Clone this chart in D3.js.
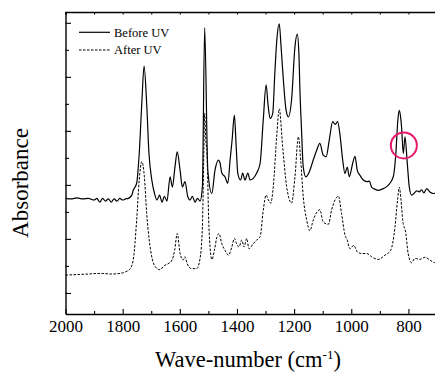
<!DOCTYPE html>
<html>
<head>
<meta charset="utf-8">
<script src="https://cdn.jsdelivr.net/npm/d3@7"></script>
<style>
  body { margin: 0; background: #fff; }
</style>
</head>
<body>
<figure id="chart" style="margin:0"></figure>
<script>
// FTIR spectra (wave-number in cm-1, absorbance in arbitrary units)
const beforeWave = [2000,1980,1960,1940,1920,1900,1890,1880,1870,1860,1850,1840,1830,1820,1810,1800,1790,1780,1768,1763,1751,1742,1733,1725,1716,1708,1698,1689,1680,1671,1662,1654,1645,1634,1626,1617,1609,1599,1591,1582,1572,1564,1556,1547,1538,1529,1521,1513,1502,1488,1477,1465,1459,1453,1442,1432,1424,1417,1409,1403,1397,1387,1380,1372,1362,1354,1343,1331,1319,1308,1298,1291,1284,1275,1267,1260,1252,1246,1240,1228,1220,1209,1197,1189,1183,1180,1174,1168,1159,1147,1133,1121,1110,1098,1088,1077,1065,1056,1048,1040,1030,1022,1014,1007,995,987,979,970,958,946,937,929,917,906,888,871,853,844,837,832,827,824,818,812,804,797,789,781,771,762,754,746,736,725,713,700];
const beforeAbs = [1.75,1.74,1.76,1.74,1.75,1.72,1.75,1.68,1.75,1.70,1.74,1.68,1.74,1.70,1.75,1.72,1.74,1.75,1.81,1.90,2.03,2.58,3.51,4.20,3.51,2.59,2.09,1.85,1.72,1.81,1.68,1.79,1.70,2.15,1.96,2.33,2.61,2.27,1.96,2.06,1.78,1.72,1.79,1.68,1.75,1.70,1.96,4.91,2.27,1.84,2.27,2.46,2.40,2.22,2.15,2.03,2.46,2.83,3.29,2.74,2.21,2.09,2.22,2.09,2.22,2.09,2.12,2.22,2.40,3.20,3.85,3.47,3.23,3.32,4.12,4.72,4.98,4.59,4.12,3.38,3.26,3.57,4.56,4.79,4.40,3.81,3.01,2.33,2.15,2.24,2.46,2.64,2.77,2.55,2.52,2.83,3.17,3.12,3.17,2.95,2.46,2.21,2.33,2.15,2.40,2.53,2.27,2.18,2.09,2.06,2.07,1.96,1.92,1.90,1.93,1.99,2.15,2.58,3.20,3.38,3.24,3.07,2.58,2.89,2.40,1.96,1.81,1.84,1.89,1.87,1.91,1.85,1.93,1.87,1.84,1.87];

const afterWave = [2000,1960,1920,1890,1870,1840,1810,1790,1775,1763,1751,1742,1733,1724,1716,1707,1697,1685,1670,1653,1641,1627,1618,1609,1599,1588,1582,1574,1559,1541,1530,1521,1516,1513,1509,1505,1498,1488,1479,1470,1463,1453,1442,1430,1418,1409,1401,1393,1383,1375,1366,1358,1343,1325,1319,1308,1298,1290,1282,1273,1261,1252,1240,1226,1218,1209,1197,1185,1177,1168,1156,1145,1133,1121,1110,1098,1080,1069,1057,1045,1034,1022,1014,1005,991,979,964,946,929,906,882,862,847,838,832,826,820,809,801,789,777,760,742,725,708,700];
const afterAbs = [0.33,0.34,0.35,0.36,0.36,0.35,0.36,0.39,0.44,0.61,1.35,2.09,2.43,2.15,1.48,0.98,0.64,0.48,0.43,0.51,0.54,0.61,0.79,1.10,0.73,0.61,0.67,0.54,0.45,0.45,0.61,1.22,2.58,3.33,2.83,2.58,1.22,0.62,0.79,1.04,1.10,0.91,0.79,0.70,0.85,1.01,0.91,0.85,0.98,0.85,1.01,0.82,0.91,1.01,1.04,1.53,1.81,1.72,1.66,1.96,2.89,3.41,2.70,1.96,1.75,1.66,2.15,2.89,2.46,1.78,1.35,1.15,1.35,1.49,1.54,1.31,1.27,1.53,1.72,1.79,1.47,1.07,0.98,0.82,0.88,0.76,0.73,0.73,0.67,0.62,0.70,0.79,1.22,1.72,1.96,1.72,1.35,1.10,0.73,0.56,0.64,0.62,0.66,0.61,0.56,0.58];

const xMajorTicks = [2000, 1800, 1600, 1400, 1200, 1000, 800];
const xMinorTicks = [1900, 1700, 1500, 1300, 1100, 900, 700];
const yMajorTicks = [0, 1, 2, 3, 4, 5];
const yMinorTicks = [0.5, 1.5, 2.5, 3.5, 4.5];
const legendLabels = ["Before UV", "After UV"];
// the doublet circled in the figure
const markedPeak = { wave: 816, abs: 2.73 };

const serif = "'Liberation Serif', 'Times New Roman', serif";
const width = 435;
const height = 373;
const plot = { left: 65.5, right: 437, top: 12, bottom: 314 };

const svg = d3.select("figure#chart")
  .append("svg")
  .attr("width", width)
  .attr("height", height)
  .attr("font-family", serif);

const x = d3.scaleLinear()
  .domain([2000, 700])
  .range([plot.left, plot.right]);

const y = d3.scaleLinear()
  .domain([-0.39, 5.2])
  .range([plot.bottom, plot.top]);

svg.append("clipPath")
  .attr("id", "plot-clip")
  .append("rect")
  .attr("x", plot.left)
  .attr("y", plot.top)
  .attr("width", width - plot.left)
  .attr("height", plot.bottom - plot.top);

function drawAxes() {
  // bottom, major ticks with labels
  svg.append("g")
    .attr("transform", "translate(0," + plot.bottom + ")")
    .call(d3.axisBottom(x).tickValues(xMajorTicks).tickSizeInner(-5).tickSizeOuter(0).tickPadding(6).tickFormat(d3.format("d")))
    .attr("font-family", serif)
    .attr("font-size", 17);

  svg.append("g")
    .attr("transform", "translate(0," + plot.bottom + ")")
    .call(d3.axisBottom(x).tickValues(xMinorTicks).tickSize(-3).tickFormat(""))
    .select(".domain").remove();

  // top frame line with small ticks
  svg.append("g")
    .attr("transform", "translate(0," + plot.top + ")")
    .call(d3.axisTop(x).tickValues(xMajorTicks.concat(xMinorTicks)).tickSize(-2.5).tickFormat(""));

  // left, no labels
  svg.append("g")
    .attr("transform", "translate(" + plot.left + ",0)")
    .call(d3.axisLeft(y).tickValues(yMajorTicks).tickSizeInner(-5.5).tickSizeOuter(0).tickFormat(""));

  svg.append("g")
    .attr("transform", "translate(" + plot.left + ",0)")
    .call(d3.axisLeft(y).tickValues(yMinorTicks).tickSize(-3.5).tickFormat(""))
    .select(".domain").remove();

  svg.selectAll(".domain").attr("stroke-width", 1.4);
  svg.selectAll(".tick line").attr("stroke-width", 1.1);

  const title = svg.append("text")
    .attr("x", 248)
    .attr("y", 367)
    .attr("text-anchor", "middle")
    .attr("font-size", 22.5);
  title.append("tspan").text("Wave-number (cm");
  title.append("tspan").attr("dy", -8.5).attr("font-size", 13).text("-1");
  title.append("tspan").attr("dy", 8.5).text(")");

  svg.append("text")
    .attr("transform", "translate(28,183)rotate(-90)")
    .attr("text-anchor", "middle")
    .attr("font-size", 23)
    .text("Absorbance");
}

function drawLines() {
  const line = d3.line()
    .x(d => x(d[0]))
    .y(d => y(d[1]))
    .curve(d3.curveMonotoneX);

  const g = svg.append("g").attr("clip-path", "url(#plot-clip)");

  g.append("path")
    .datum(afterWave.map((w, i) => [w, afterAbs[i]]))
    .attr("d", line)
    .attr("fill", "none")
    .attr("stroke", "#000")
    .attr("stroke-width", 1)
    .attr("stroke-dasharray", "2.5,1.5");

  g.append("path")
    .datum(beforeWave.map((w, i) => [w, beforeAbs[i]]))
    .attr("d", line)
    .attr("fill", "none")
    .attr("stroke", "#000")
    .attr("stroke-width", 1.2);

  g.append("circle")
    .attr("cx", x(markedPeak.wave))
    .attr("cy", y(markedPeak.abs))
    .attr("r", 13)
    .attr("fill", "none")
    .attr("stroke", "#e8186a")
    .attr("stroke-width", 2);
}

function drawLegend() {
  const items = svg.append("g")
    .selectAll("g")
    .data(legendLabels)
    .enter()
    .append("g")
    .attr("transform", (d, i) => "translate(79," + (32.3 + i * 17.7) + ")");

  items.append("line")
    .attr("x1", 0)
    .attr("x2", 31)
    .attr("stroke", "#000")
    .attr("stroke-width", (d, i) => i === 0 ? 1.2 : 1)
    .attr("stroke-dasharray", (d, i) => i === 0 ? null : "2.5,1.5");

  items.append("text")
    .attr("x", 35)
    .attr("y", 4.3)
    .attr("font-size", 12.5)
    .text(d => d);
}

drawAxes();
drawLines();
drawLegend();
</script>
</body>
</html>
